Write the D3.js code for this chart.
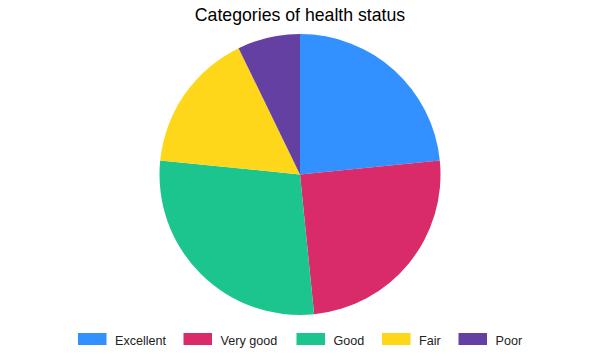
<!DOCTYPE html>
<html>
<head>
<meta charset="utf-8">
<script src="https://cdn.jsdelivr.net/npm/d3@7"></script>
<style>
  body { margin: 0; background: #fff; }
  text { font-family: "Liberation Sans", Arial, sans-serif; }
</style>
</head>
<body>
<div id="chart"></div>
<script>
// data
var categories = ["Excellent", "Very good", "Good", "Fair", "Poor"];
var shares = [23.4, 25.0, 28.2, 16.2, 7.2];
var colors = ["#3391ff", "#d92a6a", "#1cc58e", "#fed71b", "#6340a2"];

var width = 600, height = 360;
var cx = 300, cy = 174.5, radius = 140.5;

var svg = d3.select("#chart")
  .append("svg")
    .attr("width", width)
    .attr("height", height);

// title
svg.append("text")
  .attr("x", width / 2)
  .attr("y", 21)
  .attr("text-anchor", "middle")
  .style("font-size", "17.7px")
  .style("fill", "#000")
  .text("Categories of health status");

var color = d3.scaleOrdinal().domain(categories).range(colors);

var pie = d3.pie().sort(null).value(function(d) { return d.value; });
var arc = d3.arc().innerRadius(0).outerRadius(radius);

var data = categories.map(function(c, i) { return {key: c, value: shares[i]}; });

var g = svg.append("g")
  .attr("transform", "translate(" + cx + "," + cy + ")");

g.selectAll("path")
  .data(pie(data))
  .enter()
  .append("path")
    .attr("d", arc)
    .style("fill", function(d) { return color(d.data.key); });

// legend
var legendX = [78, 183.5, 296.5, 382, 458.5];
var leg = svg.selectAll(".leg")
  .data(categories)
  .enter()
  .append("g")
    .attr("class", "leg")
    .attr("transform", function(d, i) { return "translate(" + legendX[i] + ",333)"; });

leg.append("rect")
  .attr("width", 28.5)
  .attr("height", 12)
  .style("fill", function(d) { return color(d); });

leg.append("text")
  .attr("x", 37)
  .attr("y", 11.5)
  .style("font-size", "12.6px")
  .style("fill", "#222")
  .text(function(d) { return d; });
</script>
</body>
</html>
